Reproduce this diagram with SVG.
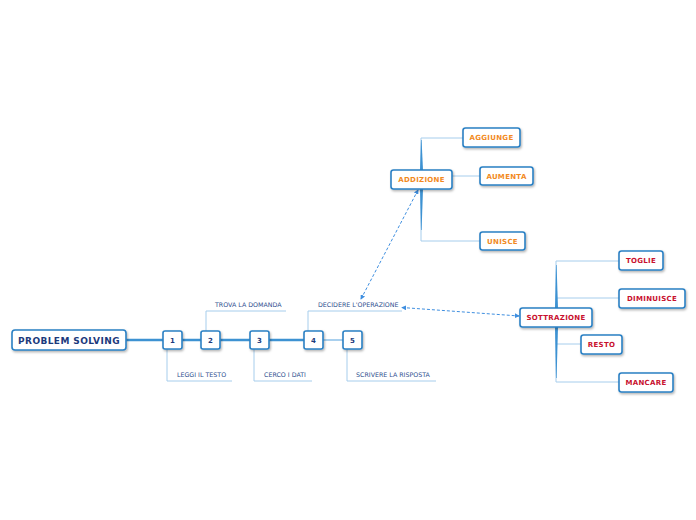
<svg xmlns="http://www.w3.org/2000/svg" width="696" height="520" viewBox="0 0 696 520">
<style>
.node{fill:#fff;stroke:#2a80c4;stroke-width:1.6;filter:url(#sh)}
.t{font-family:"DejaVu Sans",Verdana,sans-serif;font-weight:bold;text-anchor:middle;dominant-baseline:central}
.navy{fill:#1c3a7c}
.org{fill:#f28a1e}
.red{fill:#c8102e}
.lbl{font-family:"DejaVu Sans",Verdana,sans-serif;font-size:6.3px;fill:#2d4e8e}
.thin{fill:none;stroke:#a6cdec;stroke-width:1}
.main{fill:none;stroke:#3d92d2;stroke-width:2.4}
.dash{fill:none;stroke:#3f8fe0;stroke-width:1;stroke-dasharray:3,2;marker-start:url(#ah);marker-end:url(#ah)}
</style>
<defs>
<filter id="sh" x="-20%" y="-30%" width="140%" height="170%">
<feDropShadow dx="1" dy="1.5" stdDeviation="0.8" flood-color="#000" flood-opacity="0.3"/>
</filter>
<marker id="ah" viewBox="0 0 6 6" refX="5" refY="3" markerWidth="5" markerHeight="5" orient="auto-start-reverse">
<path d="M0,0 L6,3 L0,6 z" fill="#3f8fe0"/>
</marker>
</defs>
<rect width="696" height="520" fill="#fff"/>
<g id="connectors">
<line class="main" x1="126" y1="340" x2="304" y2="340"/>
<line x1="323" y1="340" x2="343" y2="340" stroke="#a9d0ee" stroke-width="2"/>
<polyline class="thin" points="206,331 206,311 286,311"/>
<polyline class="thin" points="167,349 167,381 232,381"/>
<polyline class="thin" points="254,349 254,381 312,381"/>
<polyline class="thin" points="308,331 308,311 402,311"/>
<polyline class="thin" points="347,349 347,381 436,381"/>
<polyline class="thin" points="463,138 421,138 421,241 480,241"/>
<line class="thin" x1="452" y1="176" x2="480" y2="176"/>
<polygon points="420,170 423,170 421.6,140 421,140" fill="#3d92d2"/>
<polygon points="420,189 423,189 421.6,230 421,230" fill="#3d92d2"/>
<polyline class="thin" points="619,261 556,261 556,382 619,382"/>
<line class="thin" x1="556" y1="298" x2="619" y2="298"/>
<line class="thin" x1="556" y1="344" x2="581" y2="344"/>
<polygon points="555,308 558,308 556.6,265 556,265" fill="#3d92d2"/>
<polygon points="555,327 558,327 556.6,378 556,378" fill="#3d92d2"/>
<line class="dash" x1="361" y1="299" x2="418" y2="190"/>
<line class="dash" x1="402" y1="307.5" x2="519" y2="316"/>
</g>
<g id="n-ps"><rect class="node" x="12" y="330" width="114" height="20" rx="3"/><text class="t navy" x="69" y="340.5" font-size="9" letter-spacing="0.4">PROBLEM SOLVING</text></g>
<g id="n-1"><rect class="node" x="163" y="331" width="19" height="18" rx="2"/><text class="t navy" x="172.5" y="340.5" font-size="7">1</text></g>
<g id="n-2"><rect class="node" x="201" y="331" width="19" height="18" rx="2"/><text class="t navy" x="210.5" y="340.5" font-size="7">2</text></g>
<g id="n-3"><rect class="node" x="250" y="331" width="19" height="18" rx="2"/><text class="t navy" x="259.5" y="340.5" font-size="7">3</text></g>
<g id="n-4"><rect class="node" x="304" y="331" width="19" height="18" rx="2"/><text class="t navy" x="313.5" y="340.5" font-size="7">4</text></g>
<g id="n-5"><rect class="node" x="343" y="331" width="19" height="18" rx="2"/><text class="t navy" x="352.5" y="340.5" font-size="7">5</text></g>
<g id="l-trova"><text class="lbl" x="215" y="307">TROVA LA DOMANDA</text></g>
<g id="l-leggi"><text class="lbl" x="177" y="377">LEGGI IL TESTO</text></g>
<g id="l-cerco"><text class="lbl" x="264" y="377">CERCO I DATI</text></g>
<g id="l-decidere"><text class="lbl" x="318" y="307">DECIDERE L'OPERAZIONE</text></g>
<g id="l-scrivere"><text class="lbl" x="356" y="377">SCRIVERE LA RISPOSTA</text></g>
<g id="n-add"><rect class="node" x="391" y="170" width="61" height="19" rx="2.5"/><text class="t org" x="421.5" y="180" font-size="7" letter-spacing="0.3">ADDIZIONE</text></g>
<g id="n-aggiunge"><rect class="node" x="463" y="128" width="57" height="19" rx="2.5"/><text class="t org" x="491.5" y="138" font-size="7" letter-spacing="0.3">AGGIUNGE</text></g>
<g id="n-aumenta"><rect class="node" x="480" y="167" width="53" height="18" rx="2.5"/><text class="t org" x="506.5" y="176.5" font-size="7" letter-spacing="0.3">AUMENTA</text></g>
<g id="n-unisce"><rect class="node" x="480" y="232" width="45" height="18" rx="2.5"/><text class="t org" x="502.5" y="241.5" font-size="7" letter-spacing="0.3">UNISCE</text></g>
<g id="n-sot"><rect class="node" x="520" y="308" width="72" height="19" rx="2.5"/><text class="t red" x="556" y="318" font-size="7" letter-spacing="0.3">SOTTRAZIONE</text></g>
<g id="n-toglie"><rect class="node" x="619" y="251" width="44" height="19" rx="2.5"/><text class="t red" x="641" y="261" font-size="7" letter-spacing="0.3">TOGLIE</text></g>
<g id="n-dim"><rect class="node" x="619" y="289" width="66" height="19" rx="2.5"/><text class="t red" x="652" y="299" font-size="7" letter-spacing="0.3">DIMINUISCE</text></g>
<g id="n-resto"><rect class="node" x="581" y="335" width="41" height="19" rx="2.5"/><text class="t red" x="601.5" y="345" font-size="7" letter-spacing="0.3">RESTO</text></g>
<g id="n-mancare"><rect class="node" x="619" y="373" width="54" height="19" rx="2.5"/><text class="t red" x="646" y="383" font-size="7" letter-spacing="0.3">MANCARE</text></g>
</svg>
